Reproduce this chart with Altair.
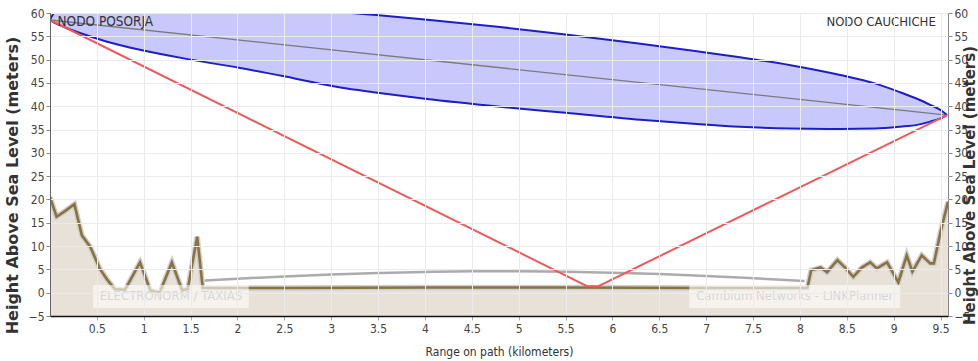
import altair as alt
import pandas as pd

# Terrain profile along the path (km, metres above sea level)
terrain_km = [0.00, 0.07, 0.16, 0.26, 0.34, 0.43, 0.53, 0.61, 0.69, 0.80, 0.96, 1.07,
              1.17, 1.30, 1.41, 1.47, 1.57, 1.63, 2.50, 4.00, 5.50, 7.00, 8.08, 8.12,
              8.22, 8.29, 8.40, 8.49, 8.57, 8.66, 8.75, 8.82, 8.93, 9.00, 9.05, 9.14,
              9.20, 9.30, 9.39, 9.43, 9.50, 9.58]
terrain_m = [20.5, 16.3, 17.5, 19.0, 12.3, 9.8, 5.2, 2.8, 0.8, 0.6, 6.5, 0.5,
             0.0, 6.5, 0.5, 0.8, 12.0, 1.0, 1.0, 1.1, 1.1, 1.0, 1.0, 4.8,
             5.4, 4.4, 7.0, 5.2, 3.4, 5.4, 6.5, 5.2, 6.5, 4.0, 2.2, 8.0,
             4.5, 8.0, 6.3, 6.3, 13.0, 19.5]

# Clearance arc over the sea section
arc_km = [1.65, 2.0, 2.5, 3.0, 3.5, 4.0, 4.5, 5.0, 5.5, 6.0, 6.5, 7.0, 7.5, 8.05]
arc_m = [2.6, 3.0, 3.5, 3.9, 4.2, 4.45, 4.6, 4.6, 4.5, 4.3, 4.0, 3.6, 3.1, 2.5]

# First Fresnel zone envelope
fresnel_km = [0.0, 0.05, 0.15, 0.32, 0.6, 0.96, 1.5, 2.03, 2.6, 3.1, 3.45, 4.0, 4.8,
              5.5, 6.3, 6.9, 7.36, 7.9, 8.43, 8.8, 9.07, 9.25, 9.39, 9.5, 9.57]
fresnel_upper = [58.5, 60.2, 60.9, 61.4, 61.8, 62.0, 62.0, 61.6, 60.9, 60.2, 59.6, 58.6, 57.0,
                 55.4, 53.4, 51.8, 50.5, 48.8, 46.7, 44.9, 43.0, 41.6, 40.3, 39.2, 38.1]
fresnel_lower = [58.5, 57.9, 57.0, 55.7, 53.9, 52.1, 50.0, 48.2, 46.0, 44.0, 43.0, 41.6, 39.9,
                 38.6, 37.1, 36.2, 35.6, 35.2, 35.1, 35.2, 35.6, 36.0, 36.7, 37.4, 38.1]

# Line of sight between the two nodes
los_km = [0.0, 9.57]
los_m = [58.5, 38.1]

# Reflected path via the sea surface
refl_km = [0.0, 5.73, 5.85, 9.57]
refl_m = [58.5, 1.4, 1.4, 38.1]

# Node names
left_node, right_node = "NODO POSORJA", "NODO CAUCHICHE"
node_km = [0.08, 9.45]
node_m = [58.0, 58.0]

# Footer watermarks
wm_text = ["ELECTRONORM / TAXIAS", "Cambium Networks - LINKPlanner"]
wm_start = [0.46, 6.82]
wm_end = [2.12, 9.07]
wm_low = [-3.3, -3.3]
wm_high = [1.65, 1.65]
wm_text_m = [-0.8, -0.8]

x_ticks = [0.5 * i for i in range(1, 20)]
y_ticks = list(range(-5, 61, 5))

NARROW = "Liberation Sans Narrow, DejaVu Sans Condensed, Liberation Sans, sans-serif"

terrain = pd.DataFrame({"km": terrain_km, "m": terrain_m})
arc = pd.DataFrame({"km": arc_km, "m": arc_m})
fresnel = pd.DataFrame({"km": fresnel_km, "m": fresnel_upper, "lo": fresnel_lower})
los = pd.DataFrame({"km": los_km, "m": los_m})
refl = pd.DataFrame({"km": refl_km, "m": refl_m})
marks_wm = pd.DataFrame({"km": wm_start, "km2": wm_end, "m": wm_low, "m2": wm_high,
                         "label": wm_text, "tm": wm_text_m,
                         "mid": [(a + b) / 2 for a, b in zip(wm_start, wm_end)]})
nodes = pd.DataFrame({"km": node_km, "m": node_m, "name": [left_node, right_node]})

xs = alt.Scale(domain=[0, 9.58], nice=False, zero=False)
ys = alt.Scale(domain=[-5, 60], nice=False, zero=False)

x_axis = alt.Axis(values=x_ticks, format="~g", title="Range on path (kilometers)", orient="bottom",
                  grid=True, gridColor="#ebebeb", zindex=1, labelOverlap=False,
                  domainColor="#111111", domainWidth=1.5, tickColor="#aaaaaa", tickSize=4,
                  labelFont=NARROW, labelFontSize=12, labelColor="#444444", labelPadding=3,
                  titleFont=NARROW, titleFontSize=12, titleFontWeight="normal",
                  titleColor="#333333", titlePadding=12)
y_axis = alt.Axis(values=y_ticks, title="Height Above Sea Level (meters)", orient="left",
                  grid=True, gridColor="#ebebeb", zindex=1, labelOverlap=False,
                  domainColor="#666666", tickColor="#888888", tickSize=4,
                  labelFont=NARROW, labelFontSize=12, labelColor="#444444", labelPadding=2,
                  titleFont="DejaVu Sans", titleFontSize=16, titleFontWeight="bold",
                  titleColor="#333333", titlePadding=8, titleY=172)
y_axis_right = alt.Axis(values=y_ticks, title="Height Above Sea Level (meters)", orient="right",
                        grid=False, labelOverlap=False,
                        domainColor="#888888", tickColor="#888888", tickSize=4,
                        labelFont=NARROW, labelFontSize=12, labelColor="#444444",
                        labelPadding=2, titleAngle=270, titleY=172,
                        titleFont="DejaVu Sans", titleFontSize=15, titleFontWeight="bold",
                        titleColor="#333333", titlePadding=8)


def X(field="km"):
    return alt.X(f"{field}:Q", scale=xs, axis=None)


def Y(field="m"):
    return alt.Y(f"{field}:Q", scale=ys, axis=None)


# Invisible carrier layers for the bottom/left axes and for the right axis
axes_left = alt.Chart(los).mark_line(opacity=0).encode(
    x=alt.X("km:Q", scale=xs, axis=x_axis), y=alt.Y("m:Q", scale=ys, axis=y_axis))
axes_right = alt.Chart(los).mark_line(opacity=0).encode(
    x=X(), y=alt.Y("m:Q", scale=ys, axis=y_axis_right))

ground = alt.Chart(terrain).mark_area(color="#e8e1d7", clip=True).encode(
    x=X(), y=Y(), y2=alt.datum(-5))

zone_fill = alt.Chart(fresnel).mark_area(color="#c8c8fc", clip=True, interpolate="monotone").encode(
    x=X(), y=Y(), y2=alt.Y2("lo:Q"))
zone_upper = alt.Chart(fresnel).mark_line(color="#1e1ec8", strokeWidth=2, clip=True,
                                          interpolate="monotone").encode(x=X(), y=Y())
zone_lower = alt.Chart(fresnel).mark_line(color="#1e1ec8", strokeWidth=2, clip=True,
                                          interpolate="monotone").encode(x=X(), y=Y("lo"))

sight = alt.Chart(los).mark_line(color="#7a7a7a", strokeWidth=1.3).encode(x=X(), y=Y())

clearance = alt.Chart(arc).mark_line(color="#ababab", strokeWidth=2.5,
                                     interpolate="monotone").encode(x=X(), y=Y())

halo = alt.Chart(terrain).mark_line(color="#cfcfcf", strokeWidth=5.5, clip=True).encode(x=X(), y=Y())
ground_line = alt.Chart(terrain).mark_line(color="#8a7340", strokeWidth=2.6, clip=True).encode(
    x=X(), y=Y())

reflection = alt.Chart(refl).mark_line(color="#ef5a5a", strokeWidth=2).encode(x=X(), y=Y())

wm_box = alt.Chart(marks_wm).mark_rect(color="#ffffff", opacity=0.6).encode(
    x=X(), x2="km2:Q", y=Y(), y2="m2:Q")
wm_label = alt.Chart(marks_wm).mark_text(font=NARROW, fontSize=13, color="#d6d6d6").encode(
    x=X("mid"), y=Y("tm"), text="label:N")

node_left = alt.Chart(nodes.iloc[[0]]).mark_text(
    font=NARROW, fontSize=13.5, color="#333333", align="left", baseline="middle").encode(
    x=X(), y=Y(), text="name:N")
node_right = alt.Chart(nodes.iloc[[1]]).mark_text(
    font=NARROW, fontSize=13, color="#333333", align="right", baseline="middle").encode(
    x=X(), y=Y(), text="name:N")

chart = alt.layer(axes_left, ground, zone_fill, sight, zone_upper, zone_lower, clearance, halo,
                  ground_line, reflection, wm_box, wm_label, node_left, node_right,
                  axes_right).resolve_axis(x="independent", y="independent").properties(
    width=898, height=303,
    autosize=alt.AutoSizeParams(type="none"),
    padding={"left": 50, "top": 13, "right": 30, "bottom": 45},
    background="white",
).configure_view(stroke="#222222", strokeWidth=1)

chart.save("out.html", embed_options={"renderer": "svg", "actions": False})
